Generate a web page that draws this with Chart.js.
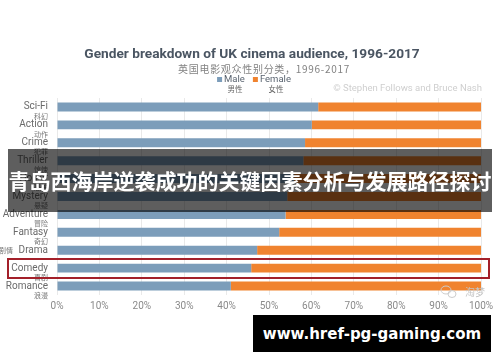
<!DOCTYPE html>
<html>
<head>
<meta charset="utf-8">
<script src="https://cdn.jsdelivr.net/npm/chart.js@4/dist/chart.umd.min.js"></script>
<style>
  html, body { margin: 0; padding: 0; background: #fff; }
  #wrap { position: relative; width: 500px; height: 362px; overflow: hidden; }
  #chart { position: absolute; left: 0; top: 0; }
  .banner {
    position: absolute; left: 8px; top: 149px; width: 484px; height: 63px;
    background: rgba(0,0,0,0.63); color: #fff;
    font: bold 21px "Noto Sans CJK SC", sans-serif;
    line-height: 63px; text-align: center; white-space: nowrap;
  }
  .url {
    position: absolute; left: 253px; top: 315px; width: 238px; height: 37px;
    background: #000; color: #fff;
    font: bold 15px "DejaVu Sans", sans-serif;
    line-height: 39px; text-align: center;
  }
  .mark {
    position: absolute; left: 7px; top: 258px; width: 479px; height: 17px;
    border: 2px solid #a3202a;
  }
</style>
</head>
<body>
<div id="wrap">
  <canvas id="chart" width="500" height="362"></canvas>
  <div class="mark"></div>
  <div class="banner">青岛西海岸逆袭成功的关键因素分析与发展路径探讨</div>
  <div class="url">www.href-pg-gaming.com</div>
</div>
<script>
// ─── data ─────────────────────────────────────────────────────────────────────
const categories   = ['Sci-Fi','Action','Crime','Thriller','Horror','Mystery','Adventure','Fantasy','Drama','Comedy','Romance'];
const categoriesZh = ['科幻','动作','犯罪','惊悚','恐怖','悬疑','冒险','奇幻','剧情','喜剧','浪漫'];
const malePct      = [61.6, 60.1, 58.5, 58.1, 55.9, 54.3, 53.9, 52.4, 47.2, 45.8, 41.0];
const femalePct    = [38.4, 39.9, 41.5, 41.9, 44.1, 45.7, 46.1, 47.6, 52.8, 54.2, 59.0];
const seriesNames   = ['Male', 'Female'];
const seriesNamesZh = ['男性', '女性'];
const titleText    = 'Gender breakdown of UK cinema audience, 1996-2017';
const subtitleText = '英国电影观众性别分类，1996-2017';

const FONT = 'Roboto, "Noto Sans CJK SC", sans-serif';
const COLORS = { male: '#7c9dba', female: '#f0832f' };

// ─── header + extra labels: title, legend, chinese row names, credit ─────────
const extraText = {
  id: 'extraText',
  afterDraw(chart) {
    const { ctx } = chart;
    const y = chart.scales.y;
    ctx.save();
    ctx.textBaseline = 'middle';

    // title + subtitle
    ctx.textAlign = 'center';
    ctx.font = 'bold 13.7px ' + FONT;
    ctx.fillStyle = '#4a5562';
    ctx.fillText(titleText, 252, 55);
    ctx.font = '10px "Noto Sans CJK SC"';
    ctx.fillStyle = '#828282';
    ctx.letterSpacing = '0.7px';
    ctx.fillText(subtitleText, 264, 69);
    ctx.letterSpacing = '0px';

    // chinese category names under (or left of) the english ticks
    ctx.font = '7px "Noto Sans CJK SC"';
    ctx.fillStyle = '#777';
    ctx.textAlign = 'right';
    categoriesZh.forEach((t, i) => {
      const py = y.getPixelForTick(i);
      if (categories[i] === 'Drama') ctx.fillText(t, 13, py);
      else ctx.fillText(t, 48, py + 9);
    });

    // legend
    ctx.font = '9.5px ' + FONT;
    const box = 5, gap = 2, itemGap = 8;
    const widths = seriesNames.map(n => box + gap + ctx.measureText(n).width);
    const total = widths.reduce((a, b) => a + b, 0) + itemGap;
    let x = 254 - total / 2;
    chart.data.datasets.forEach((ds, i) => {
      ctx.fillStyle = ds.backgroundColor;
      ctx.fillRect(x, 77, box, box);
      ctx.fillStyle = '#5a6470';
      ctx.textAlign = 'left';
      ctx.fillText(seriesNames[i], x + box + gap, 79.5);
      ctx.font = '7.5px "Noto Sans CJK SC"';
      ctx.fillStyle = '#666';
      ctx.textAlign = 'center';
      ctx.fillText(seriesNamesZh[i], x + widths[i] / 2 + 4, 89);
      ctx.font = '9.5px ' + FONT;
      x += widths[i] + itemGap;
    });

    // credit
    ctx.font = '9.5px ' + FONT;
    ctx.fillStyle = '#cfcfcf';
    ctx.textAlign = 'right';
    ctx.fillText('© Stephen Follows and Bruce Nash', 482, 89);

    // watermark
    ctx.font = '10px "Noto Sans CJK SC"';
    ctx.fillStyle = '#c4c4c4';
    ctx.fillText('淘梦', 485, 292);
    ctx.strokeStyle = '#cccccc';
    ctx.lineWidth = 1;
    ctx.beginPath(); ctx.ellipse(446, 290, 5, 4, 0, 0, Math.PI * 2); ctx.stroke();
    ctx.beginPath(); ctx.ellipse(452, 294, 4, 3.5, 0, 0, Math.PI * 2); ctx.stroke();
    ctx.restore();
  }
};

// ─── chart ────────────────────────────────────────────────────────────────────
new Chart(document.getElementById('chart'), {
  type: 'bar',
  data: {
    labels: categories,
    datasets: [
      { label: seriesNames[0], data: malePct,   backgroundColor: COLORS.male,
        barPercentage: 0.5, categoryPercentage: 1 },
      { label: seriesNames[1], data: femalePct, backgroundColor: COLORS.female,
        barPercentage: 0.5, categoryPercentage: 1 },
    ],
  },
  options: {
    indexAxis: 'y',
    responsive: false,
    animation: false,
    layout: { padding: { left: 0, right: 19, top: 98, bottom: 47 } },
    plugins: {
      legend: { display: false },
      tooltip: { enabled: false },
      title: { display: false },
    },
    scales: {
      x: {
        stacked: true, min: 0, max: 100,
        ticks: { stepSize: 10, callback: v => v + '%', color: '#8a8a8a',
                 font: { family: FONT, size: 10 }, padding: 5 },
        grid: { color: '#e9e9e9', drawTicks: false },
        border: { display: false },
        afterFit(scale) { scale.height = 20; },
      },
      y: {
        stacked: true,
        ticks: { color: '#6a6a6a', font: { family: FONT, size: 10 }, padding: 9 },
        grid: { display: false, drawTicks: false },
        border: { display: false },
        afterFit(scale) { scale.width = 57; },
      },
    },
  },
  plugins: [extraText],
});
</script>
</body>
</html>
